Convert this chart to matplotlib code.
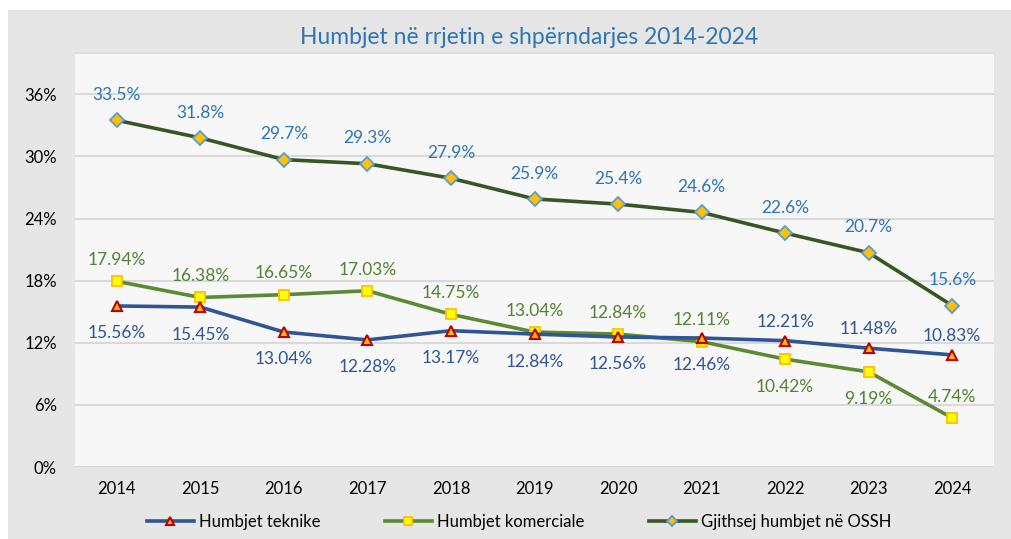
import matplotlib
matplotlib.use("Agg")
import matplotlib.pyplot as plt
from matplotlib.patches import Rectangle

years = ["2014", "2015", "2016", "2017", "2018", "2019", "2020", "2021", "2022", "2023", "2024"]
teknike = [15.56, 15.45, 13.04, 12.28, 13.17, 12.84, 12.56, 12.46, 12.21, 11.48, 10.83]
komerciale = [17.94, 16.38, 16.65, 17.03, 14.75, 13.04, 12.84, 12.11, 10.42, 9.19, 4.74]
totali = [33.5, 31.8, 29.7, 29.3, 27.9, 25.9, 25.4, 24.6, 22.6, 20.7, 15.6]
yticks = [0, 6, 12, 18, 24, 30, 36]

# label placement: +1 above, -1 below
tek_pos = [-1, -1, -1, -1, -1, -1, -1, -1, 1, 1, 1]
kom_pos = [1, 1, 1, 1, 1, 1, 1, 1, -1, -1, 1]

plt.rcParams['font.family'] = ['Lato', 'DejaVu Sans']

W, H = 1011, 539
fig = plt.figure(figsize=(W / 100, H / 100), dpi=100)
fig.patch.set_facecolor("white")
bg = Rectangle((8 / W, 0), 1 - 8 / W, (H - 10) / H, transform=fig.transFigure,
               facecolor="#e6e6e6", edgecolor="none", zorder=-10)
fig.add_artist(bg)

ax = fig.add_axes([75 / W, (H - 467) / H, (994 - 75) / W, (467 - 53) / H])
ax.set_facecolor("#f7f7f7")
for s in ax.spines.values():
    s.set_visible(False)
ax.spines["top"].set_visible(True)
ax.spines["top"].set_color("#dedede")
ax.spines["top"].set_linewidth(1.5)

x = list(range(len(years)))
c_tek = "#2f5597"
c_kom = "#5b8a32"
c_tot = "#375623"

ax.plot(x, teknike, color=c_tek, lw=2.6, marker="^", markersize=6.5,
        markerfacecolor="#ffc000", markeredgecolor="#c00000", markeredgewidth=1.5,
        label="Humbjet teknike", zorder=4)
ax.plot(x, komerciale, color=c_kom, lw=2.6, marker="s", markersize=6.5,
        markerfacecolor="#ffff00", markeredgecolor="#ffc000", markeredgewidth=1.3,
        label="Humbjet komerciale", zorder=3)
ax.plot(x, totali, color=c_tot, lw=2.6, marker="D", markersize=7,
        markerfacecolor="#ffc000", markeredgecolor="#5b9bd5", markeredgewidth=1.3,
        label="Gjithsej humbjet në OSSH", zorder=3)

lab_fs = 12.5
for i, v in enumerate(totali):
    ax.annotate(f"{v:.1f}%", (i, v), xytext=(0, 12.5), textcoords="offset points",
                ha="center", va="bottom", color="#2e75b6", fontsize=lab_fs)
for i, v in enumerate(komerciale):
    off = 9.5 if kom_pos[i] > 0 else -14
    ax.annotate(f"{v:.2f}%", (i, v), xytext=(0, off), textcoords="offset points",
                ha="center", va="bottom" if off > 0 else "top", color="#548235", fontsize=lab_fs)
for i, v in enumerate(teknike):
    off = 8 if tek_pos[i] > 0 else -14
    ax.annotate(f"{v:.2f}%", (i, v), xytext=(0, off), textcoords="offset points",
                ha="center", va="bottom" if off > 0 else "top", color="#2f5597", fontsize=lab_fs)

ax.set_xlim(-0.5, len(years) - 0.5)
ax.set_ylim(0, 40)
ax.set_yticks(yticks)
ax.set_yticklabels([f"{t}%" for t in yticks])
ax.set_xticks(x)
ax.set_xticklabels(years)
ax.tick_params(axis="both", length=0, labelsize=12, colors="#000000")
ax.tick_params(axis="y", pad=13)
ax.tick_params(axis="x", pad=10)
ax.grid(axis="y", color="#d9d9d9", lw=1.5)
ax.set_axisbelow(True)

fig.text(529 / W, 1 - 37 / H, "Humbjet në rrjetin e shpërndarjes 2014-2024",
         ha="center", va="center", color="#2e75b6", fontsize=16.5)

fig.legend(loc="center", bbox_to_anchor=(519 / W, 1 - 522 / H), ncol=3, frameon=False,
           fontsize=12, columnspacing=3.9, handlelength=2.8, handletextpad=0.3,
           markerscale=0.8)

fig.savefig("out.png", dpi=100, facecolor=fig.get_facecolor())
